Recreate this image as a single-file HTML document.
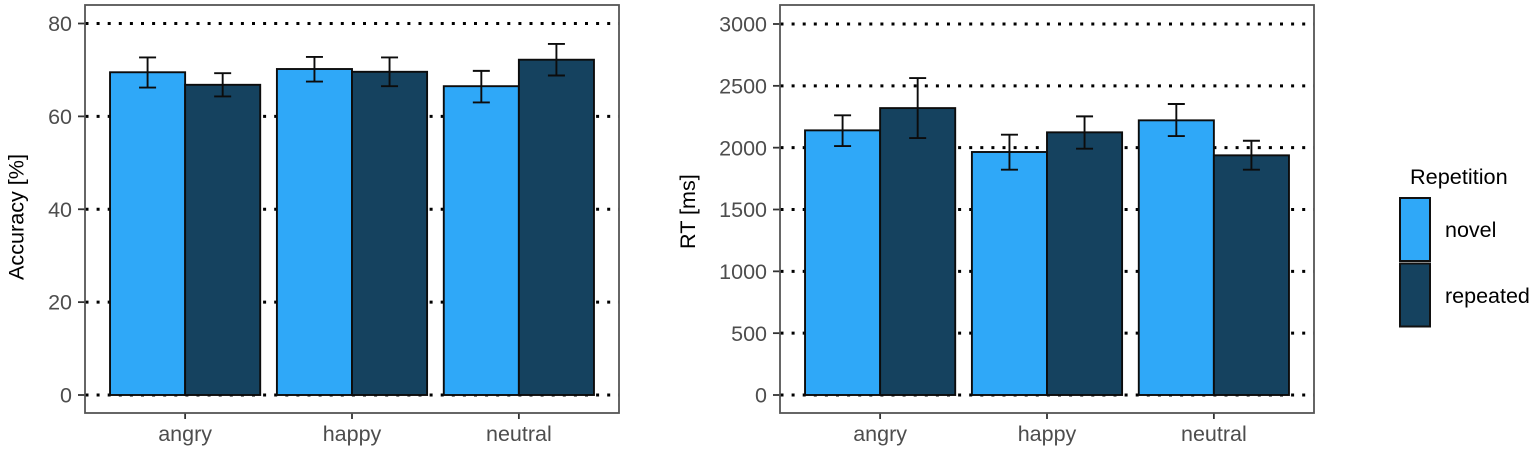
<!DOCTYPE html>
<html>
<head>
<meta charset="utf-8">
<style>
html,body{margin:0;padding:0;background:#fff;width:1535px;height:451px;overflow:hidden}
svg{display:block}
text{font-family:"Liberation Sans",Arial,sans-serif}
</style>
</head>
<body>
<svg id="chart" xmlns="http://www.w3.org/2000/svg" width="1535" height="451" viewBox="0 0 1535 451">
  <g id="legend">
    <text x="1410" y="184" font-size="21.7" fill="#000">Repetition</text>
    <rect x="1400" y="198" width="30" height="63" fill="#2fa8f8" stroke="#111" stroke-width="2"/>
    <rect x="1400" y="263.500" width="30" height="63" fill="#15425f" stroke="#111" stroke-width="2"/>
    <text x="1445" y="237" font-size="21.5" fill="#000">novel</text>
    <text x="1445" y="303" font-size="21.5" fill="#000">repeated</text>
  </g>
</svg>
<script>
var categories = ['angry', 'happy', 'neutral'];
var seriesNames = ['novel', 'repeated'];

var accuracyNovel = [69.5, 70.2, 66.5];
var accuracyRepeated = [66.8, 69.6, 72.2];
var accuracyNovelLow = [66.2, 67.5, 63.0];
var accuracyNovelHigh = [72.7, 72.8, 69.8];
var accuracyRepeatedLow = [64.3, 66.5, 68.8];
var accuracyRepeatedHigh = [69.3, 72.7, 75.6];
var accuracyTicks = [0, 20, 40, 60, 80];

var rtNovel = [2140, 1965, 2221];
var rtRepeated = [2320, 2124, 1938];
var rtNovelLow = [2013, 1822, 2094];
var rtNovelHigh = [2262, 2105, 2353];
var rtRepeatedLow = [2078, 1992, 1822];
var rtRepeatedHigh = [2563, 2253, 2056];
var rtTicks = [0, 500, 1000, 1500, 2000, 2500, 3000];

var seriesColors = ['#2fa8f8', '#15425f'];
var NS = 'http://www.w3.org/2000/svg';
var svg = document.getElementById('chart');
var legend = document.getElementById('legend');

function make(tag, parent, attrs, content) {
  var el = document.createElementNS(NS, tag);
  for (var k in attrs) el.setAttribute(k, attrs[k]);
  if (content !== undefined) el.textContent = content;
  parent.appendChild(el);
  return el;
}

function drawPanel(key, left, right, y0px, yTopPx, yTopVal, ticks, title, titleX, titleY, values, lows, highs) {
  var top = 5, bottom = 413;
  var step = (right - left) / 3.2;
  var xScale = function (i) { return left + (0.6 + i) * step; };
  var yScale = function (v) { return y0px + (yTopPx - y0px) * v / yTopVal; };
  var barW = 0.45 * step;

  var g = make('g', svg, {});
  
  

  ticks.forEach(function (t) {
    var y = yScale(t);
    var grid = make('line', g, { x1: left + 0.5, x2: right, y1: y, y2: y, stroke: '#000', 'stroke-width': 3, 'stroke-dasharray': '3 8.1' });
    
    
    var tick = make('line', g, { x1: left - 7, x2: left, y1: y, y2: y, stroke: '#333', 'stroke-width': 1.8 });
    
    
    var label = make('text', g, { x: left - 13, y: y + 7.6, 'text-anchor': 'end', 'font-size': 21.5, fill: '#4d4d4d' }, String(t));
    
    
  });

  categories.forEach(function (cat, c) {
    var cx = xScale(c);
    seriesNames.forEach(function (name, s) {
      var v = values[s][c];
      var bar = make('rect', g, { x: cx - barW + s * barW, y: yScale(v), width: barW, height: y0px - yScale(v), fill: seriesColors[s], stroke: '#0c0c0c', 'stroke-width': 1.9 });
      
      
    });
  });

  categories.forEach(function (cat, c) {
    var cx = xScale(c);
    seriesNames.forEach(function (name, s) {
      var ex = cx - barW / 2 + s * barW;
      var yl = yScale(lows[s][c]);
      var yh = yScale(highs[s][c]);
      var err = make('path', g, { d: 'M' + (ex - 8.5) + ' ' + yh + 'H' + (ex + 8.5) + 'M' + ex + ' ' + yh + 'V' + yl + 'M' + (ex - 8.5) + ' ' + yl + 'H' + (ex + 8.5), fill: 'none', stroke: '#0c0c0c', 'stroke-width': 1.9 });
      
      
    });
    var xt = make('line', g, { x1: cx, x2: cx, y1: bottom, y2: bottom + 6, stroke: '#333', 'stroke-width': 1.8 });
    
    
    var xl = make('text', g, { x: cx, y: 441, 'text-anchor': 'middle', 'font-size': 21.5, fill: '#4d4d4d' }, cat);
    
    
  });

  var border = make('rect', g, { x: left, y: top, width: right - left, height: bottom - top, fill: 'none', stroke: '#555', 'stroke-width': 1.8 });
  
  

  var yTitle = make('text', g, { transform: 'translate(' + titleX + ' ' + titleY + ') rotate(-90)', 'font-size': 21.6, fill: '#000' }, title);
  
  
}

drawPanel('accuracy', 85, 619, 395, 23.5, 80, accuracyTicks, 'Accuracy [%]', 23.5, 280,
  [accuracyNovel, accuracyRepeated], [accuracyNovelLow, accuracyRepeatedLow], [accuracyNovelHigh, accuracyRepeatedHigh]);
drawPanel('rt', 780, 1314, 395, 24, 3000, rtTicks, 'RT [ms]', 695, 249,
  [rtNovel, rtRepeated], [rtNovelLow, rtRepeatedLow], [rtNovelHigh, rtRepeatedHigh]);
</script>
</body>
</html>
